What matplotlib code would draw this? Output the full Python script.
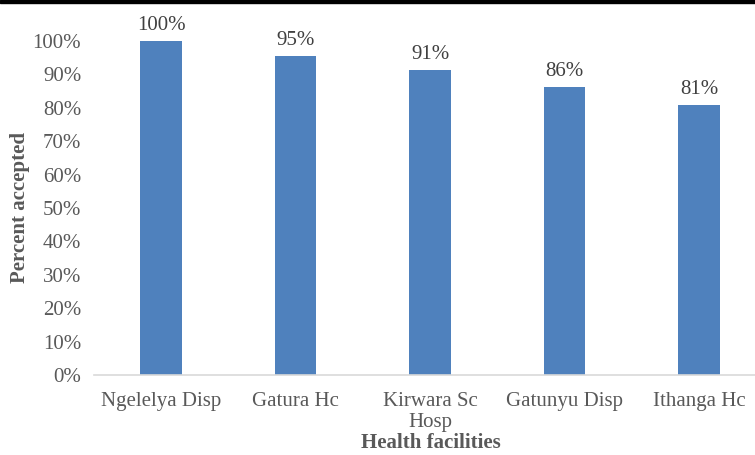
import matplotlib.pyplot as plt
from matplotlib.patches import Rectangle

# data
facilities = ['Ngelelya Disp', 'Gatura Hc', 'Kirwara Sc\nHosp', 'Gatunyu Disp', 'Ithanga Hc']
accepted = [100.0, 95.4, 91.3, 86.2, 80.8]
y_ticks = list(range(0, 101, 10))

plt.rcParams['font.family'] = ['Liberation Serif', 'DejaVu Serif']
text_color = '#595959'

fig = plt.figure(figsize=(7.55, 4.55), dpi=100)
ax = fig.add_axes([0.1242, 0.1758, 0.8907, 0.7341])

x = range(len(facilities))
bars = ax.bar(x, accepted, width=0.31, color='#4F81BD', zorder=2)

for b, v in zip(bars, accepted):
    ax.text(b.get_x() + b.get_width() / 2, v + 1.8, f'{round(v)}%',
            ha='center', va='bottom', fontsize=15, color='#404040')

ax.set_xlim(-0.5, len(facilities) - 0.5)
ax.set_ylim(0, 100)
ax.set_yticks(y_ticks)
ax.set_yticklabels([f'{t}%' for t in y_ticks])
ax.set_xticks(list(x))
ax.set_xticklabels(facilities, linespacing=1.15)

for s in ['top', 'right', 'left']:
    ax.spines[s].set_visible(False)
ax.spines['bottom'].set_color('#D9D9D9')
ax.spines['bottom'].set_linewidth(1.2)
ax.tick_params(axis='both', length=0, labelsize=15, colors=text_color)
ax.tick_params(axis='x', pad=12)
ax.tick_params(axis='y', pad=9)

fig.text(0.027, 0.545, 'Percent accepted', rotation=90, ha='center', va='center',
         fontsize=15, fontweight='bold', color=text_color)
fig.text(0.571, 0.026, 'Health facilities', ha='center', va='center',
         fontsize=15, fontweight='bold', color=text_color)

# black rule along the top edge
fig.patches.append(Rectangle((0, 1 - 3 / 455), 1, 3 / 455, transform=fig.transFigure,
                             color='black', zorder=10))

plt.savefig('out.png', dpi=100)
